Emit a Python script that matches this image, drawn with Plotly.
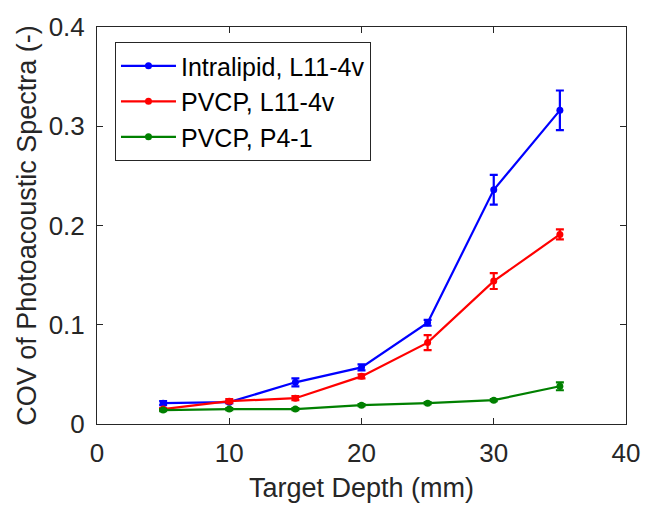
import plotly.graph_objects as go

depth = [5, 10, 15, 20, 25, 30, 35]

intralipid_l11 = [0.021, 0.022, 0.042, 0.057, 0.102, 0.236, 0.316]
intralipid_l11_err = [0.002, 0.001, 0.004, 0.003, 0.003, 0.015, 0.020]

pvcp_l11 = [0.015, 0.023, 0.026, 0.048, 0.082, 0.144, 0.191]
pvcp_l11_err = [0.001, 0.002, 0.002, 0.002, 0.0075, 0.008, 0.005]

pvcp_p41 = [0.014, 0.015, 0.015, 0.019, 0.021, 0.024, 0.038]
pvcp_p41_err = [0.001, 0.001, 0.001, 0.001, 0.001, 0.001, 0.004]

names = ["Intralipid, L11-4v", "PVCP, L11-4v", "PVCP, P4-1"]
colors = ["#0000FF", "#FF0000", "#008000"]
series = [(intralipid_l11, intralipid_l11_err), (pvcp_l11, pvcp_l11_err), (pvcp_p41, pvcp_p41_err)]

font_family = "Liberation Sans, Arial, Helvetica, sans-serif"

fig = go.Figure()
for name, color, (vals, errs) in zip(names, colors, series):
    fig.add_trace(go.Scatter(
        x=depth, y=vals, name=name, mode="lines+markers",
        line=dict(color=color, width=2.2),
        marker=dict(color=color, size=7),
        error_y=dict(type="data", array=errs, visible=True, color=color, thickness=2.2, width=4),
        legendgroup=name,
    ))

axis_common = dict(
    showgrid=False, zeroline=False, showline=True, linecolor="#262626", linewidth=1,
    mirror="ticks", ticks="inside", ticklen=6, tickcolor="#262626",
    tickfont=dict(family=font_family, size=26, color="#262626"),
)

fig.update_layout(
    width=652, height=510,
    margin=dict(l=97, r=19, t=27, b=86),
    paper_bgcolor="white", plot_bgcolor="white",
    font=dict(family=font_family, color="#262626"),
    xaxis=dict(range=[0, 40], tickvals=[0, 10, 20, 30, 40], ticklabelstandoff=6,
               title=dict(text="Target Depth (mm)", font=dict(size=27, color="#262626"), standoff=10),
               **axis_common),
    yaxis=dict(range=[0, 0.4], tickvals=[0, 0.1, 0.2, 0.3, 0.4], ticktext=["0", "0.1", "0.2", "0.3", "0.4"],
               ticklabelstandoff=6,
               title=dict(text="COV of Photoacoustic Spectra (-)", font=dict(size=27, color="#262626"), standoff=4),
               **axis_common),
    legend=dict(
        x=0.034, y=0.962, xanchor="left", yanchor="top",
        bgcolor="white", bordercolor="#262626", borderwidth=1,
        font=dict(family=font_family, size=25, color="#000000"),
        tracegroupgap=0, traceorder="grouped", itemwidth=55,
    ),
    showlegend=True,
)

fig.write_html("out.html")
